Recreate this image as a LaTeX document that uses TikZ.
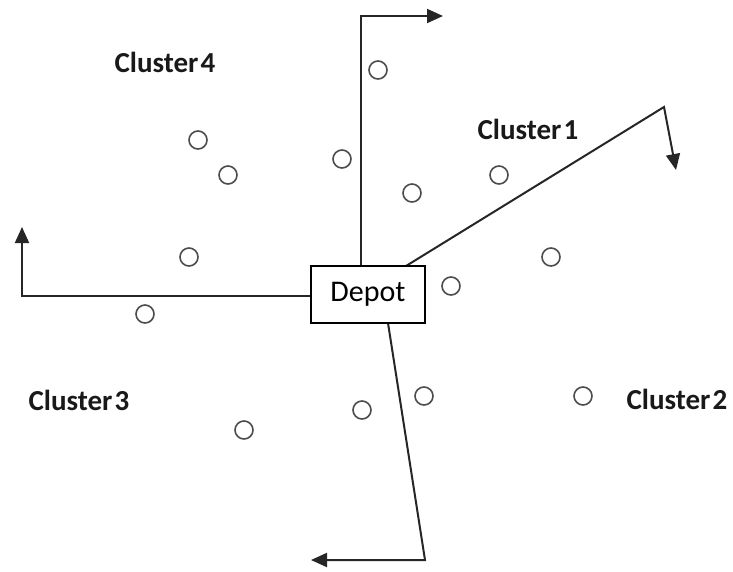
\documentclass[tikz,border=0pt]{standalone}
\usepackage{fontspec}
\setmainfont{Carlito}
\usetikzlibrary{arrows.meta}
\begin{document}
\begin{tikzpicture}[x=1pt,y=-1pt,
  route/.style={line width=2pt,draw=black!85,-{Triangle[length=16pt,width=14pt]}},
  customer/.style={circle,draw=black!70,line width=1.6pt,minimum size=18pt,inner sep=0pt},
  clusterlabel/.style={font=\fontsize{29}{33}\selectfont\bfseries,text=black!90},
  depotbox/.style={draw=black,line width=1.6pt,fill=white,minimum width=114pt,minimum height=57pt,inner sep=0pt,font=\fontsize{30}{34}\selectfont}]
\useasboundingbox (0,0) rectangle (733,571);

% route corners and arrow tips
\coordinate (c1) at (361,16);   \coordinate (t1) at (443,16);
\coordinate (c2) at (664,107);  \coordinate (t2) at (676,170);
\coordinate (c3) at (22,296);   \coordinate (t3) at (22,227);
\coordinate (c4) at (425,560);  \coordinate (t4) at (311,560);

% routes leaving the depot
\draw[route] (361,266) -- (c1) -- (t1);
\draw[route] (406,266) -- (c2) -- (t2);
\draw[route] (311,296) -- (c3) -- (t3);
\draw[route] (388,323) -- (c4) -- (t4);

\node[depotbox] (depot) at (368,294.5) {Depot};

% customers
\foreach \n/\px/\py in {a/378/70, b/198/140, c/228/175, d/342/159, e/412/193,
  f/499/175, g/189/257, h/551/257, i/451/286, j/145/314, k/424/396,
  l/583/396, m/362/410, n/244/430}
  \node[customer] (\n) at (\px,\py) {};

% cluster names
\node[clusterlabel] (k4) at (165,62) {Cluster\hspace{0.08em}4};
\node[clusterlabel] (k1) at (528,129) {Cluster\hspace{0.08em}1};
\node[clusterlabel] (k3) at (79,400) {Cluster\hspace{0.08em}3};
\node[clusterlabel] (k2) at (677,399) {Cluster\hspace{0.08em}2};
\end{tikzpicture}
\end{document}
